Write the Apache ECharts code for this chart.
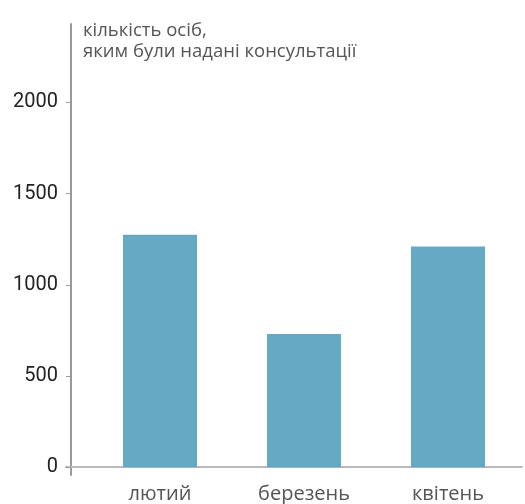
<!DOCTYPE html>
<html><head><meta charset="utf-8">
<script src="https://cdn.jsdelivr.net/npm/echarts@6/dist/echarts.min.js"></script>
<style>html,body{margin:0;padding:0;background:#fff}#c{width:525px;height:504px}</style>
</head><body><div id="c"></div>
<script>
const categories = ['лютий', 'березень', 'квітень'];
const values = [1275, 730, 1210];
const yTicks = [0, 500, 1000, 1500, 2000];
const yName = 'кількість осіб,\nяким були надані консультації';

const chart = echarts.init(document.getElementById('c'));
chart.setOption({
  animation: false,
  title: {
    text: yName, left: 78, top: 15, padding: 5,
    textStyle: {fontFamily: 'Open Sans', fontSize: 18.5, fontWeight: 'normal', color: '#555', lineHeight: 21}
  },
  grid: {left: 66, right: 3, top: 24, bottom: 27, containLabel: false},
  xAxis: {
    type: 'value', min: -0.653, max: 2.514,
    splitLine: {show: false},
    axisLine: {onZero: true, lineStyle: {color: '#bbb', width: 2}},
    axisTick: {show: false},
    axisLabel: {
      customValues: categories.map((c, i) => i),
      formatter: v => categories[Math.round(v)],
      fontFamily: 'Open Sans', fontSize: 20, color: '#555', margin: 9
    }
  },
  yAxis: {
    type: 'value', min: -43, max: 2430, offset: -5,
    splitLine: {show: false},
    axisLine: {show: true, onZero: false, lineStyle: {color: '#999', width: 2}},
    axisTick: {show: true, customValues: yTicks, length: 5, lineStyle: {color: '#999', width: 1}},
    axisLabel: {customValues: yTicks, formatter: v => String(v), fontFamily: 'Roboto', fontSize: 20, color: '#222', margin: 13}
  },
  series: [{
    type: 'bar', barWidth: 74,
    data: values.map((v, i) => [i, v]),
    itemStyle: {color: '#66a9c5'}
  }]
});
</script></body></html>
